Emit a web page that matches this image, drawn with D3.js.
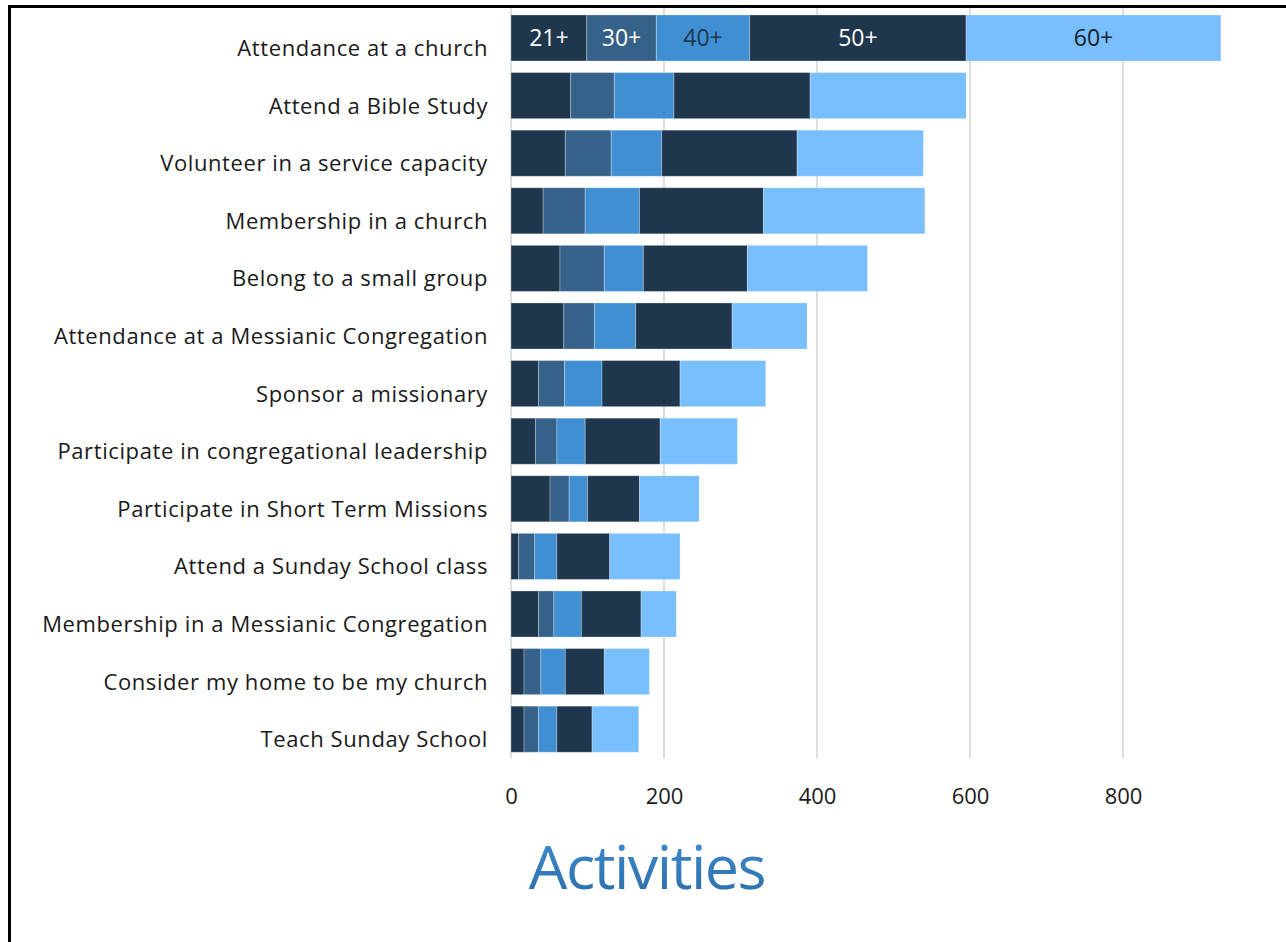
<!DOCTYPE html>
<html>
<head>
<meta charset="utf-8">
<script src="https://cdn.jsdelivr.net/npm/d3@7/dist/d3.min.js"></script>
<style>
  html, body { margin: 0; padding: 0; background: #fff; }
  svg { display: block; }
</style>
</head>
<body>
<script>
// Activities, stacked by age group
const categories = [
  "Attendance at a church",
  "Attend a Bible Study",
  "Volunteer in a service capacity",
  "Membership in a church",
  "Belong to a small group",
  "Attendance at a Messianic Congregation",
  "Sponsor a missionary",
  "Participate in congregational leadership",
  "Participate in Short Term Missions",
  "Attend a Sunday School class",
  "Membership in a Messianic Congregation",
  "Consider my home to be my church",
  "Teach Sunday School"
];
const ageGroups = ["21+", "30+", "40+", "50+", "60+"];
const age21 = [99, 78, 71, 42, 64, 69, 36, 32, 51, 10, 36, 17, 17];
const age30 = [91, 57, 60, 55, 58, 40, 34, 28, 25, 21, 20, 22, 19];
const age40 = [122, 78, 66, 71, 51, 54, 49, 37, 24, 29, 36, 32, 24];
const age50 = [283, 178, 177, 162, 136, 126, 102, 98, 68, 69, 78, 51, 46];
const age60 = [333, 204, 165, 211, 157, 98, 112, 101, 78, 92, 46, 59, 61];
const xTicks = [0, 200, 400, 600, 800];

const W = 1286, H = 942;
const seriesValues = [age21, age30, age40, age50, age60];
const fills = ["#1f374d", "#36628a", "#418fd3", "#1f374d", "#79bffe"];
const inBarText = ["#ffffff", "#ffffff", "#1f374d", "#ffffff", "#14202c"];

const rows = categories.map((c, i) => {
  const r = { category: c };
  ageGroups.forEach((g, k) => { r[g] = seriesValues[k][i]; });
  return r;
});
const stacked = d3.stack().keys(ageGroups)(rows);

const svg = d3.select("body").append("svg")
  .attr("width", W).attr("height", H);

const x = d3.scaleLinear().domain([0, 800]).range([511, 1123]);
const y = d3.scaleBand().domain(categories).range([9.2, 758])
  .paddingInner(0.2).paddingOuter(0.1);

// frame
svg.append("rect").attr("x", 8).attr("y", 5).attr("width", W).attr("height", 3).attr("fill", "#000");
svg.append("rect").attr("x", 8).attr("y", 5).attr("width", 3).attr("height", H).attr("fill", "#000");

// vertical gridlines
svg.append("g").selectAll("line").data(xTicks).join("line")
  .attr("x1", d => x(d)).attr("x2", d => x(d))
  .attr("y1", 8).attr("y2", 758)
  .attr("stroke", "#dedede").attr("stroke-width", 2);

// stacked bars
const layers = svg.append("g").selectAll("g").data(stacked).join("g")
  .attr("fill", (d, i) => fills[i]);
layers.selectAll("rect").data(d => d).join("rect")
  .attr("x", d => x(d[0]))
  .attr("y", d => y(d.data.category))
  .attr("width", d => x(d[1]) - x(d[0]))
  .attr("height", y.bandwidth())
  .attr("stroke", "rgba(255,255,255,0.28)")
  .attr("stroke-width", 1);

// age group labels inside the first bar
const first = stacked.map(s => s[0]);
svg.append("g").selectAll("text").data(first).join("text")
  .attr("x", d => (x(d[0]) + x(d[1])) / 2)
  .attr("y", y(categories[0]) + y.bandwidth() / 2)
  .attr("dy", "0.36em")
  .attr("text-anchor", "middle")
  .attr("font-family", "'Open Sans', sans-serif")
  .attr("font-size", 23)
  .attr("fill", (d, i) => inBarText[i])
  .text((d, i) => ageGroups[i]);

// category labels
svg.append("g").selectAll("text").data(categories).join("text")
  .attr("x", 488)
  .attr("y", d => y(d) + y.bandwidth() / 2 + 10)
  .attr("dy", "0.36em")
  .attr("text-anchor", "end")
  .attr("font-family", "'Open Sans', sans-serif")
  .attr("font-size", 22)
  .attr("letter-spacing", 0.6)
  .attr("fill", "#1a1a1a")
  .text(d => d);

// x axis tick labels
const axis = svg.append("g").attr("transform", "translate(0,758)")
  .call(d3.axisBottom(x).tickValues(xTicks).tickSize(0).tickPadding(30));
axis.select(".domain").remove();
axis.selectAll("text")
  .attr("font-family", "'Open Sans', sans-serif")
  .attr("font-size", 22)
  .attr("fill", "#1a1a1a");

// title
const defs = svg.append("defs");
const grad = defs.append("linearGradient").attr("id", "titleGrad")
  .attr("x1", 0).attr("y1", 0).attr("x2", 0).attr("y2", 1);
grad.append("stop").attr("offset", "0%").attr("stop-color", "#3f92d9");
grad.append("stop").attr("offset", "100%").attr("stop-color", "#2c69a3");
svg.append("text")
  .attr("x", 647).attr("y", 889)
  .attr("text-anchor", "middle")
  .attr("font-family", "'Open Sans', sans-serif")
  .attr("font-size", 61)
  .attr("letter-spacing", -1.5)
  .attr("fill", "url(#titleGrad)")
  .text("Activities");
</script>
</body>
</html>
